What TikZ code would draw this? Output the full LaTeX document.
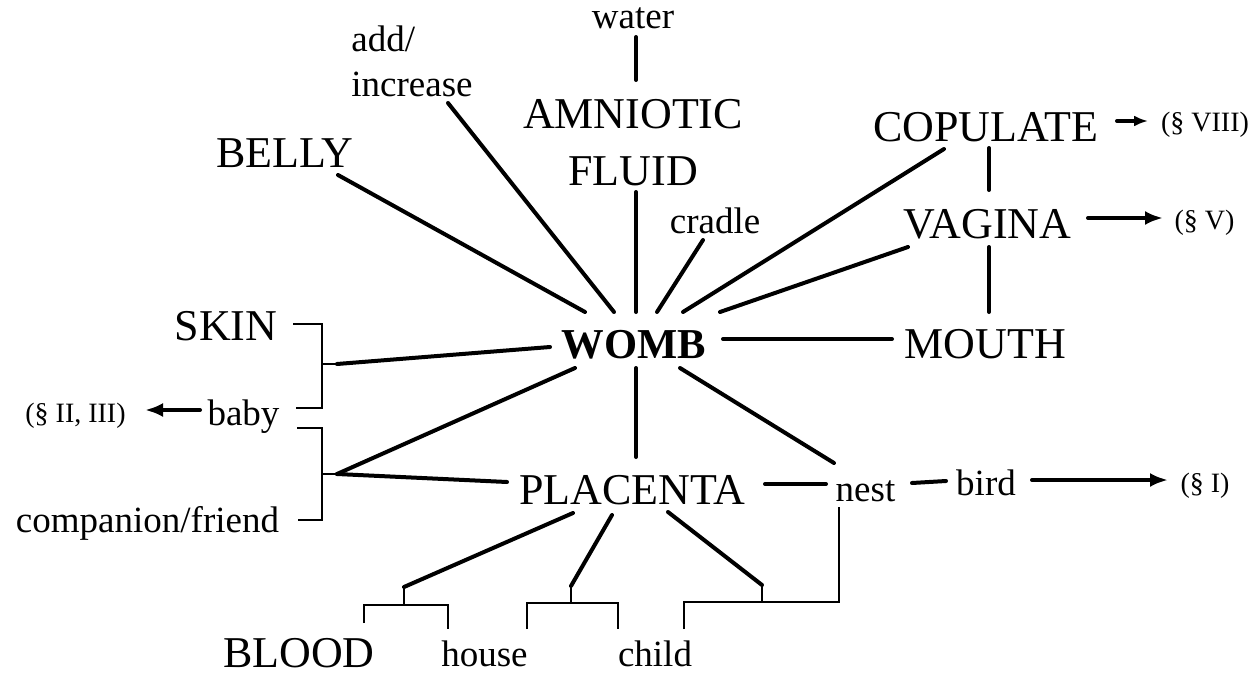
\documentclass[tikz,border=0pt]{standalone}
\usepackage{fontspec}
\setmainfont{Liberation Serif}
\usetikzlibrary{calc,arrows.meta}
\begin{document}
\begin{tikzpicture}[x=0.5pt,y=-0.5pt,
  every node/.style={inner sep=0pt, anchor=base},
  bigtxt/.style={font=\fontsize{22}{28.5}\selectfont},
  smalltxt/.style={font=\fontsize{18.5}{22.5}\selectfont},
  sectxt/.style={font=\fontsize{14}{16}\selectfont},
  centraltxt/.style={font=\fontsize{21.3}{24}\selectfont\bfseries},
  link/.style={line width=2pt, line cap=round},
  brk/.style={line width=0.9pt},
  ptr/.style={line width=2pt, line cap=round, -{Latex[length=9pt,width=7pt]}},
  ptrsmall/.style={line width=2pt, line cap=round, -{Latex[length=7pt,width=5.5pt]}},
]
\useasboundingbox (0,0) rectangle (1257,674);

% nodes (multi-line nodes: base = baseline of last line)
\node[smalltxt] (water) at (633,29) {water};
\node[smalltxt, anchor=base west, align=left] (addinc) at (351,97) {add/\\increase};
\node[bigtxt, align=center] (amn) at (633,185) {AMNIOTIC\\FLUID};
\node[bigtxt] (belly) at (285,167) {BELLY};
\node[smalltxt] (cradle) at (715,233) {cradle};
\node[bigtxt] (cop) at (985.5,141) {COPULATE};
\node[sectxt] (sec8) at (1205,132) {(§ VIII)};
\node[bigtxt] (vag) at (987.5,238) {VAGINA};
\node[sectxt] (sec5) at (1204.5,229) {(§ V)};
\node[bigtxt] (mouth) at (985.5,358) {MOUTH};
\node[centraltxt] (womb) at (634,358) {WOMB};
\node[bigtxt] (skin) at (226,340) {SKIN};
\node[smalltxt] (baby) at (243.5,425) {baby};
\node[sectxt] (sec23) at (75.5,422) {(§ II, III)};
\node[smalltxt] (comp) at (147.5,532) {companion/friend};
\node[bigtxt] (pla) at (632.5,504) {PLACENTA};
\node[smalltxt] (nest) at (865.5,501) {nest};
\node[smalltxt] (bird) at (986,495) {bird};
\node[sectxt] (sec1) at (1205,492) {(§ I)};
\node[bigtxt] (blood) at (299,667) {BLOOD};
\node[smalltxt] (house) at (484.5,666) {house};
\node[smalltxt] (child) at (655,666) {child};

% junction points of the brackets
\coordinate (skinbr) at (322,364); \coordinate (skinj) at (337,364);
\coordinate (compbr) at (322,474); \coordinate (compj) at (337,474);
\coordinate (bhbr) at (404,605);   \coordinate (bhj) at (404,587);
\coordinate (hcbr) at (571,603);   \coordinate (hcj) at (571,586);
\coordinate (cnbr) at (762,602);   \coordinate (cnj) at (762,585);

% thick links
\draw[link] ($(water.base)+(3,8)$) -- ($(amn.base)+(3,-105)$);
\draw[link] ($(amn.base)+(3,7)$) -- ($(womb.base)+(2,-46)$);
\draw[link] ($(addinc.base west)+(97,6)$) -- ($(womb.base)+(-20,-46)$);
\draw[link] ($(belly.base)+(53,8)$) -- ($(womb.base)+(-49,-46)$);
\draw[link] ($(cradle.base)+(-12,7)$) -- ($(womb.base)+(23,-46)$);
\draw[link] ($(cop.base)+(-41.5,8)$) -- ($(womb.base)+(49,-46)$);
\draw[link] ($(vag.base)+(-79.5,9)$) -- ($(womb.base)+(86,-46)$);
\draw[link] ($(cop.base)+(3.5,7)$) -- ($(vag.base)+(1.5,-48)$);
\draw[link] ($(vag.base)+(1.5,9)$) -- ($(mouth.base)+(3.5,-46)$);
\draw[link] ($(womb.base)+(89,-19)$) -- ($(mouth.base)+(-93.5,-19)$);
\draw[link] (skinj) -- ($(womb.base)+(-84,-11)$);
\draw[link] (compj) -- ($(womb.base)+(-59,10)$);
\draw[link] (compj) -- ($(pla.base)+(-125.5,-22)$);
\draw[link] ($(womb.base)+(2,10)$) -- ($(pla.base)+(3.5,-47)$);
\draw[link] ($(womb.base)+(46,10)$) -- ($(nest.base)+(-31.5,-38)$);
\draw[link] ($(pla.base)+(132.5,-20)$) -- ($(nest.base)+(-39.5,-17)$);
\draw[link] ($(nest.base)+(46.5,-18)$) -- ($(bird.base)+(-40,-14)$);
\draw[link] (bhj) -- ($(pla.base)+(-59.5,9)$);
\draw[link] (hcj) -- ($(pla.base)+(-20.5,11)$);
\draw[link] (cnj) -- ($(pla.base)+(35.5,8)$);

% arrows to sections
\draw[ptrsmall] ($(cop.base)+(131.5,-20)$) -- ($(sec8.base)+(-57,-11)$);
\draw[ptr] ($(vag.base)+(100.5,-20)$) -- ($(sec5.base)+(-41.5,-11)$);
\draw[ptr] ($(baby.base)+(-43.5,-15)$) -- ($(sec23.base)+(69.5,-12)$);
\draw[ptr] ($(bird.base)+(46,-15)$) -- ($(sec1.base)+(-37,-12)$);

% brackets
\draw[brk] ($(skin.base)+(67,-16)$) -| ($(baby.base)+(78.5,-17)$) -- ($(baby.base)+(52.5,-17)$);
\draw[brk] (skinbr) -- (skinj);
\draw[brk] ($(baby.base)+(53.5,3)$) -| ($(comp.base)+(174.5,-12)$) -- ($(comp.base)+(150.5,-12)$);
\draw[brk] (compbr) -- (compj);
\draw[brk] ($(blood.base)+(65,-44)$) |- ($(house.base)+(-36.5,-61)$) -- ($(house.base)+(-36.5,-37)$);
\draw[brk] (bhbr) -- (bhj);
\draw[brk] ($(house.base)+(42.5,-37)$) |- ($(child.base)+(-37,-63)$) -- ($(child.base)+(-37,-37)$);
\draw[brk] (hcbr) -- (hcj);
\draw[brk] ($(child.base)+(29,-37)$) |- ($(nest.base)+(-26.5,101)$) -- ($(nest.base)+(-26.5,6)$);
\draw[brk] (cnbr) -- (cnj);
\end{tikzpicture}
\end{document}
